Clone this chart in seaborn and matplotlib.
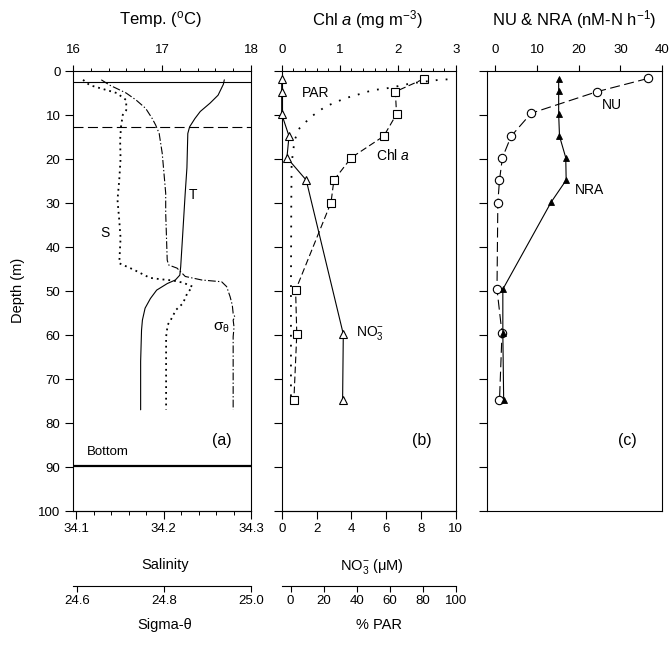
import matplotlib
matplotlib.use("Agg")
import matplotlib.pyplot as plt
from matplotlib.ticker import MultipleLocator, FixedLocator, FormatStrFormatter, NullLocator
import seaborn as sns

# ---------------- data ----------------
# Panel (a): CTD profiles
temp_depth = [2, 3, 5.5, 7.3, 9.2, 10.8, 12.7, 14.2, 22, 28, 38, 44.5, 46.4, 47.5, 48.3, 49.8, 51.7, 53.9, 56.6, 58.9, 66, 77]
temp_vals = [17.70, 17.69, 17.63, 17.54, 17.43, 17.37, 17.31, 17.29, 17.28, 17.26, 17.23, 17.21, 17.20, 17.15, 17.06, 16.94, 16.87, 16.81, 16.78, 16.77, 16.76, 16.76]

sal_depth = [2, 3.2, 3.9, 5, 6.6, 8.9, 10, 12.7, 15.7, 20, 24.8, 29.3, 33.9, 38, 43.7, 45.1, 47, 47.3, 47.6, 48.1, 49, 50.5, 52.8, 54.3, 56.6, 57.7, 60.4, 77]
sal_vals = [34.1075, 34.115, 34.127, 34.146, 34.157, 34.157, 34.153, 34.151, 34.150, 34.1505, 34.149, 34.147, 34.149, 34.1505, 34.149, 34.165, 34.184, 34.195, 34.210, 34.222, 34.233, 34.227, 34.222, 34.214, 34.208, 34.2045, 34.2027, 34.2027]

sig_depth = [2, 3.2, 5, 6.6, 8.5, 10.8, 12.3, 14.2, 18.7, 23.2, 27.8, 32.3, 43, 44.1, 44.8, 46.7, 47.5, 47.9, 49, 51.3, 53.2, 55.1, 55.9, 56.6, 58.2, 60.4, 77]
sig_vals = [24.656, 24.675, 24.713, 24.736, 24.758, 24.773, 24.781, 24.789, 24.796, 24.800, 24.804, 24.804, 24.8075, 24.811, 24.830, 24.849, 24.887, 24.9325, 24.944, 24.952, 24.957, 24.959, 24.963, 24.959, 24.961, 24.959, 24.959]

mixed_layer_depths = [2.6, 12.8]
bottom_depth = 89.8

# Panel (b)
chl_depth = [1.8, 4.7, 9.8, 14.8, 19.7, 24.8, 29.9, 49.8, 59.8, 74.8]
chl_vals = [2.45, 1.96, 1.98, 1.76, 1.20, 0.90, 0.85, 0.24, 0.26, 0.21]

no3_depth = [1.8, 4.7, 9.8, 14.8, 19.7, 24.8, 59.8, 74.8]
no3_vals = [0.0, 0.0, 0.0, 0.42, 0.30, 1.41, 3.54, 3.50]

par_depth = [1.9, 2.05, 2.8, 3.3, 4.1, 4.3, 4.9, 6.2, 8.1, 10.4, 13.0, 15.7, 21, 30, 40, 50, 60, 75]
par_vals = [95, 89, 73, 67, 56, 50, 45, 33, 21, 12.4, 5.4, 2.4, 0.6, 0.4, 0.3, 0.2, 0.2, 0.2]

# Panel (c)
nu_depth = [1.7, 4.7, 9.6, 14.8, 19.7, 24.8, 29.9, 49.6, 59.6, 74.8]
nu_vals = [36.6, 24.4, 8.6, 3.8, 1.7, 1.0, 0.6, 0.4, 1.6, 1.0]

nra_depth = [1.8, 4.6, 9.8, 14.8, 19.7, 24.8, 29.8, 49.6, 59.6, 74.8]
nra_vals = [15.2, 15.2, 15.2, 15.4, 16.9, 17.0, 13.4, 1.8, 1.8, 2.0]

depth_ticks = [0, 10, 20, 30, 40, 50, 60, 70, 80, 90, 100]

# ---------------- style ----------------
sns.set_style("ticks")
plt.rcParams["font.family"] = ["Liberation Sans", "DejaVu Sans"]
plt.rcParams["mathtext.fontset"] = "custom"
plt.rcParams["mathtext.rm"] = "Liberation Sans"
plt.rcParams["mathtext.it"] = "Liberation Sans:italic"
plt.rcParams["mathtext.sf"] = "Liberation Sans"
plt.rcParams["axes.linewidth"] = 0.8
plt.rcParams["axes.edgecolor"] = "black"
plt.rcParams["text.color"] = "black"
plt.rcParams["axes.labelcolor"] = "black"
plt.rcParams["xtick.color"] = "black"
plt.rcParams["ytick.color"] = "black"

TICK_FS = 9.5
LAB_FS = 12
IN_FS = 10

fig = plt.figure(figsize=(6.69, 6.53), dpi=100)
W, H = 669.0, 653.0


def rect(x0, x1, y0=71.0, y1=511.0):
    return [x0 / W, 1 - y1 / H, (x1 - x0) / W, (y1 - y0) / H]


def prof(ax, x, y, **kw):
    kw.setdefault("color", "black")
    kw.setdefault("markeredgecolor", "black")
    sns.lineplot(x=x, y=y, ax=ax, sort=False, estimator=None, legend=False, **kw)
    ax.set_xlabel("")
    ax.set_ylabel("")


def depth_axis(ax, labels):
    ax.set_ylim(100, 0)
    ax.yaxis.set_major_locator(FixedLocator(depth_ticks))
    ax.tick_params(axis="y", which="major", direction="out", length=6, width=0.8,
                   pad=3, labelsize=TICK_FS, left=True, right=False, labelleft=labels)


def top_axis(ax, lim, major, minor=None):
    ax.set_xlim(*lim)
    ax.xaxis.set_ticks_position("top")
    ax.xaxis.set_major_locator(MultipleLocator(major))
    if minor:
        ax.xaxis.set_minor_locator(MultipleLocator(minor))
    else:
        ax.xaxis.set_minor_locator(NullLocator())
    ax.tick_params(axis="x", which="major", direction="out", length=4.5, width=0.8,
                   pad=6.5, labelsize=TICK_FS, top=True, bottom=False, labeltop=True, labelbottom=False)
    ax.tick_params(axis="x", which="minor", direction="out", length=2.2, width=0.7,
                   top=True, bottom=False)


def bottom_twin(ax, lim, ticks, fmt, minor=None):
    t = ax.twiny()
    t.set_xlim(*lim)
    t.xaxis.set_ticks_position("bottom")
    t.xaxis.set_label_position("bottom")
    t.xaxis.set_major_locator(FixedLocator(ticks))
    t.xaxis.set_major_formatter(FormatStrFormatter(fmt))
    if minor:
        t.xaxis.set_minor_locator(MultipleLocator(minor))
    t.tick_params(axis="x", which="major", direction="out", length=5.5, width=0.8,
                  pad=3, labelsize=TICK_FS, top=False, bottom=True, labeltop=False, labelbottom=True)
    t.tick_params(axis="x", which="minor", direction="out", length=3, width=0.7,
                  top=False, bottom=True)
    for s in ["top", "left", "right"]:
        t.spines[s].set_visible(False)
    return t


def offset_scale(ax, lim, ticks, fmt):
    t = ax.twiny()
    t.set_xlim(*lim)
    for s in ["top", "left", "right"]:
        t.spines[s].set_visible(False)
    t.spines["bottom"].set_position(("outward", 54))
    t.xaxis.set_ticks_position("bottom")
    t.xaxis.set_major_locator(FixedLocator(ticks))
    t.xaxis.set_major_formatter(FormatStrFormatter(fmt))
    t.xaxis.set_minor_locator(NullLocator())
    t.tick_params(axis="x", which="major", direction="out", length=4.5, width=0.8,
                  pad=2, labelsize=TICK_FS, top=False, bottom=True, labeltop=False, labelbottom=True)
    return t


# ---------------- panel (a) ----------------
axA = fig.add_axes(rect(73, 251))
axS = bottom_twin(axA, (34.096, 34.3), [34.1, 34.2, 34.3], "%.1f", minor=0.02)
axSig = offset_scale(axA, (24.591, 25.0), [24.6, 24.8, 25.0], "%.1f")
top_axis(axA, (16, 18), 1, 0.2)
depth_axis(axA, True)

prof(axA, temp_vals, temp_depth, linewidth=0.8, linestyle="-")
prof(axS, sal_vals, sal_depth, linewidth=1.3, linestyle=(0, (1, 2.2)))
prof(axSig, sig_vals, sig_depth, linewidth=0.8, linestyle=(0, (7, 2, 1.2, 2)))
axA.set_xlim(16, 18)
axS.set_xlim(34.096, 34.3)
axSig.set_xlim(24.591, 25.0)
axA.axhline(mixed_layer_depths[0], color="black", lw=0.8)
axA.axhline(mixed_layer_depths[1], color="black", lw=0.8, linestyle=(0, (9, 4)))
axA.axhline(bottom_depth, color="black", lw=1.6)
axA.text(17.35, 28.2, "T", fontsize=IN_FS, ha="center", va="center")
axA.text(16.36, 36.8, "S", fontsize=IN_FS, ha="center", va="center")
axA.text(17.67, 58.4, r"σ$_{\mathrm{θ}}$", fontsize=IN_FS + 1, ha="center", va="center")
axA.text(16.39, 86.7, "Bottom", fontsize=IN_FS - 0.5, ha="center", va="center")
axA.text(17.67, 83.9, "(a)", fontsize=IN_FS + 1.5, ha="center", va="center")

# ---------------- panel (b) ----------------
axB = fig.add_axes(rect(281.7, 455.7))
axN = bottom_twin(axB, (0, 10), [0, 2, 4, 6, 8, 10], "%d")
axP = offset_scale(axB, (-5.4, 100), [0, 20, 40, 60, 80, 100], "%d")
top_axis(axB, (0, 3), 1, 0.2)
depth_axis(axB, False)

prof(axP, par_vals, par_depth, linewidth=1.3, linestyle=(0, (1, 4.5)))
prof(axB, chl_vals, chl_depth, linewidth=0.8, linestyle=(0, (6, 3)), marker="s",
     markersize=5.5, markerfacecolor="white", markeredgewidth=0.8, clip_on=False)
prof(axN, no3_vals, no3_depth, linewidth=0.8, linestyle="-", marker="^",
     markersize=6, markerfacecolor="white", markeredgewidth=0.8, clip_on=False)
axB.set_xlim(0, 3)
axN.set_xlim(0, 10)
axP.set_xlim(-5.4, 100)
axB.text(0.59, 5.0, "PAR", fontsize=IN_FS, ha="center", va="center")
axB.text(1.92, 19.1, r"Chl $\mathit{a}$", fontsize=IN_FS, ha="center", va="center")
axB.text(1.28, 59.5, r"NO$_3^{-}$", fontsize=IN_FS, ha="left", va="center")
axB.text(2.41, 83.9, "(b)", fontsize=IN_FS + 1.5, ha="center", va="center")

# ---------------- panel (c) ----------------
axC = fig.add_axes(rect(487, 662))
prof(axC, nu_vals, nu_depth, linewidth=0.8, linestyle=(0, (9, 4)), marker="o",
     markersize=6, markerfacecolor="white", markeredgewidth=0.8)
prof(axC, nra_vals, nra_depth, linewidth=0.8, linestyle="-", marker="^",
     markersize=5, markerfacecolor="black", markeredgewidth=0.6)
top_axis(axC, (-2, 40), 10)
depth_axis(axC, False)
axC.tick_params(axis="x", which="both", bottom=False, labelbottom=False)
axC.text(28.1, 7.7, "NU", fontsize=IN_FS, ha="center", va="center")
axC.text(22.5, 27.0, "NRA", fontsize=IN_FS, ha="center", va="center")
axC.text(31.7, 84.0, "(c)", fontsize=IN_FS + 1.5, ha="center", va="center")

# ---------------- outer labels ----------------
def ftext(x, y, s, **kw):
    fig.text(x / W, 1 - y / H, s, ha="center", va="center", **kw)

ftext(160, 20, r"Temp. ($^\mathrm{o}$C)", fontsize=LAB_FS)
ftext(367, 20, r"Chl $\mathit{a}$ (mg m$^{-3}$)", fontsize=LAB_FS)
ftext(574, 20, r"NU & NRA (nM-N h$^{-1}$)", fontsize=LAB_FS)
ftext(165, 565, "Salinity", fontsize=LAB_FS - 1.5)
ftext(372, 566, r"NO$_3^{-}$ (μM)", fontsize=LAB_FS - 1.5)
ftext(165, 625, "Sigma-θ", fontsize=LAB_FS - 1.5)
ftext(379, 625, "% PAR", fontsize=LAB_FS - 1.5)
ftext(18, 290, "Depth (m)", fontsize=LAB_FS - 1.5, rotation=90)

fig.savefig("out.png", dpi=100)
